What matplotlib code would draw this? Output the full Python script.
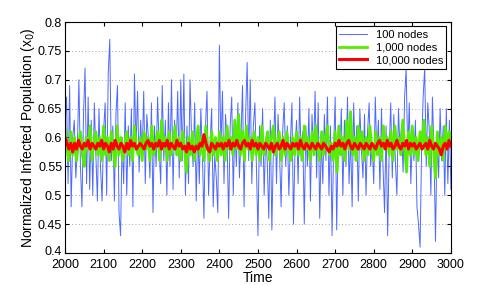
import numpy as np
import matplotlib
matplotlib.use('Agg')
import matplotlib.pyplot as plt
import matplotlib.transforms as mtransforms

plt.rcParams['font.family'] = ['Liberation Sans', 'DejaVu Sans']

# 100 nodes, sampled every 4 time steps
t_100 = np.arange(2000, 3001, 4)
nodes_100 = [
    0.62, 0.67, 0.52, 0.69, 0.48, 0.60, 0.63, 0.53, 0.58, 0.70, 0.55, 0.48, 0.64, 0.72, 0.52, 0.67, 0.51, 0.63, 0.50, 0.66, 0.57, 0.49, 0.65, 0.55, 0.49,
    0.61, 0.66, 0.50, 0.71, 0.77, 0.56, 0.62, 0.49, 0.64, 0.69, 0.47, 0.43, 0.60, 0.52, 0.66, 0.50, 0.62, 0.55, 0.65, 0.48, 0.71, 0.58, 0.68, 0.54, 0.63,
    0.57, 0.68, 0.52, 0.64, 0.60, 0.53, 0.66, 0.47, 0.62, 0.55, 0.67, 0.58, 0.52, 0.69, 0.56, 0.63, 0.50, 0.66, 0.55, 0.70, 0.51, 0.63, 0.57, 0.68, 0.53,
    0.70, 0.56, 0.71, 0.50, 0.62, 0.52, 0.70, 0.60, 0.55, 0.66, 0.49, 0.62, 0.52, 0.65, 0.57, 0.46, 0.62, 0.68, 0.50, 0.59, 0.65, 0.48, 0.57, 0.53, 0.47,
    0.76, 0.58, 0.68, 0.52, 0.64, 0.59, 0.46, 0.62, 0.67, 0.50, 0.62, 0.55, 0.66, 0.53, 0.60, 0.69, 0.48, 0.64, 0.73, 0.56, 0.70, 0.52, 0.62, 0.66, 0.55,
    0.43, 0.62, 0.55, 0.65, 0.50, 0.60, 0.56, 0.46, 0.63, 0.44, 0.58, 0.67, 0.52, 0.64, 0.57, 0.48, 0.61, 0.66, 0.55, 0.62, 0.50, 0.59, 0.66, 0.45, 0.58,
    0.63, 0.52, 0.67, 0.56, 0.61, 0.45, 0.62, 0.55, 0.65, 0.49, 0.64, 0.57, 0.68, 0.53, 0.66, 0.46, 0.60, 0.52, 0.64, 0.56, 0.67, 0.50, 0.62, 0.43, 0.58,
    0.67, 0.44, 0.62, 0.57, 0.65, 0.50, 0.63, 0.55, 0.67, 0.52, 0.60, 0.48, 0.66, 0.56, 0.62, 0.49, 0.65, 0.58, 0.53, 0.64, 0.50, 0.61, 0.66, 0.55, 0.59,
    0.52, 0.67, 0.57, 0.63, 0.51, 0.65, 0.55, 0.47, 0.62, 0.43, 0.58, 0.66, 0.53, 0.64, 0.56, 0.50, 0.65, 0.58, 0.62, 0.54, 0.67, 0.72, 0.57, 0.66, 0.52,
    0.60, 0.56, 0.63, 0.48, 0.45, 0.41, 0.58, 0.67, 0.72, 0.55, 0.66, 0.61, 0.50, 0.67, 0.58, 0.42, 0.60, 0.53, 0.65, 0.56, 0.62, 0.50, 0.65, 0.52, 0.63, 0.51,
]

# 1,000 and 10,000 nodes, sampled every 5 time steps
t_big = np.arange(2000, 3001, 5)
nodes_1000 = [
    0.62, 0.58, 0.56, 0.61, 0.57, 0.60, 0.56, 0.59, 0.61, 0.57, 0.55, 0.60, 0.58, 0.62, 0.56, 0.59, 0.61, 0.57, 0.60, 0.56,
    0.62, 0.57, 0.60, 0.56, 0.61, 0.58, 0.55, 0.62, 0.57, 0.60, 0.56, 0.59, 0.61, 0.57, 0.60, 0.56, 0.62, 0.58, 0.57, 0.60,
    0.56, 0.61, 0.58, 0.60, 0.56, 0.62, 0.57, 0.59, 0.61, 0.56, 0.63, 0.58, 0.60, 0.56, 0.61, 0.57, 0.59, 0.62, 0.57, 0.60,
    0.56, 0.61, 0.58, 0.54, 0.60, 0.57, 0.61, 0.56, 0.59, 0.62, 0.57, 0.60, 0.56, 0.62, 0.58, 0.56, 0.61, 0.57, 0.60, 0.56,
    0.61, 0.57, 0.60, 0.56, 0.62, 0.58, 0.60, 0.57, 0.63, 0.58, 0.64, 0.57, 0.61, 0.56, 0.62, 0.58, 0.60, 0.56, 0.61, 0.57,
    0.60, 0.56, 0.62, 0.57, 0.59, 0.61, 0.56, 0.60, 0.62, 0.57, 0.59, 0.61, 0.56, 0.60, 0.57, 0.61, 0.58, 0.56, 0.60, 0.57,
    0.61, 0.57, 0.60, 0.56, 0.62, 0.58, 0.60, 0.56, 0.61, 0.57, 0.62, 0.58, 0.56, 0.61, 0.57, 0.60, 0.62, 0.57, 0.59, 0.56,
    0.61, 0.54, 0.62, 0.57, 0.60, 0.56, 0.63, 0.58, 0.645, 0.57, 0.60, 0.56, 0.62, 0.58, 0.61, 0.56, 0.60, 0.57, 0.62, 0.58,
    0.56, 0.61, 0.57, 0.60, 0.56, 0.62, 0.58, 0.60, 0.57, 0.61, 0.56, 0.62, 0.58, 0.60, 0.57, 0.63, 0.58, 0.54, 0.61, 0.57,
    0.62, 0.57, 0.60, 0.56, 0.61, 0.58, 0.63, 0.57, 0.60, 0.55, 0.62, 0.58, 0.53, 0.61, 0.57, 0.60, 0.56, 0.62, 0.58, 0.61, 0.60,
]
nodes_10000 = [
    0.60, 0.59, 0.58, 0.59, 0.575, 0.59, 0.58, 0.595, 0.585, 0.58, 0.59, 0.585, 0.595, 0.58, 0.59, 0.585, 0.58, 0.59, 0.585, 0.595,
    0.58, 0.59, 0.585, 0.575, 0.59, 0.58, 0.595, 0.585, 0.58, 0.59, 0.585, 0.575, 0.59, 0.58, 0.595, 0.585, 0.59, 0.58, 0.585, 0.59,
    0.585, 0.58, 0.59, 0.595, 0.585, 0.59, 0.58, 0.59, 0.585, 0.595, 0.58, 0.59, 0.585, 0.595, 0.58, 0.59, 0.585, 0.58, 0.595, 0.585,
    0.59, 0.58, 0.585, 0.575, 0.59, 0.58, 0.585, 0.575, 0.585, 0.58, 0.59, 0.585, 0.605, 0.59, 0.58, 0.575, 0.59, 0.585, 0.58, 0.59,
    0.585, 0.59, 0.58, 0.59, 0.585, 0.595, 0.58, 0.59, 0.585, 0.595, 0.585, 0.58, 0.59, 0.595, 0.585, 0.59, 0.58, 0.595, 0.585, 0.59,
    0.58, 0.59, 0.585, 0.58, 0.59, 0.585, 0.58, 0.59, 0.575, 0.585, 0.59, 0.58, 0.585, 0.595, 0.58, 0.59, 0.585, 0.58, 0.59, 0.585,
    0.59, 0.58, 0.595, 0.585, 0.58, 0.59, 0.585, 0.58, 0.59, 0.585, 0.58, 0.59, 0.585, 0.58, 0.59, 0.585, 0.58, 0.575, 0.585, 0.58,
    0.59, 0.585, 0.595, 0.585, 0.59, 0.58, 0.59, 0.595, 0.585, 0.58, 0.59, 0.585, 0.58, 0.59, 0.585, 0.58, 0.59, 0.585, 0.58, 0.59,
    0.585, 0.58, 0.59, 0.595, 0.585, 0.59, 0.58, 0.595, 0.585, 0.59, 0.58, 0.585, 0.595, 0.585, 0.58, 0.59, 0.585, 0.595, 0.58, 0.59,
    0.585, 0.59, 0.58, 0.585, 0.59, 0.58, 0.585, 0.59, 0.58, 0.595, 0.585, 0.58, 0.59, 0.585, 0.58, 0.57, 0.585, 0.59, 0.58, 0.595, 0.585,
]

fig = plt.figure(figsize=(4.98, 2.85), dpi=100)
ax = fig.add_axes([0.1305, 0.1123, 0.775, 0.8105])

ax.plot(t_100, nodes_100, color='#2f4fff', lw=0.7, alpha=0.85, label='100 nodes')
ax.plot(t_big, nodes_1000, color='#55ee00', lw=2.0, label='1,000 nodes')
ax.plot(t_big, nodes_10000, color='#ff0000', lw=2.2, label='10,000 nodes')

ax.set_xlim(2000, 3000)
ax.set_ylim(0.4, 0.8)
ax.set_xticks(np.arange(2000, 3001, 100))
ax.set_yticks([0.4, 0.45, 0.5, 0.55, 0.6, 0.65, 0.7, 0.75, 0.8])
ax.set_yticklabels(['0.4', '0.45', '0.5', '0.55', '0.6', '0.65', '0.7', '0.75', '0.8'])
ax.yaxis.grid(True, linestyle=(0, (1, 3)), color='#888888', lw=0.6)
ax.tick_params(direction='in', top=True, right=True, labelsize=9, length=3)
ax.tick_params(axis='y', pad=2)
ax.tick_params(axis='x', pad=4)
ax.set_xlabel('Time', fontsize=10, labelpad=0)
ax.set_ylabel('Normalized Infected Population (x$_0$)', fontsize=10, labelpad=1)

# lift the bottom y label a little so it clears the first x label
lbl = ax.get_yticklabels()[0]
lbl.set_transform(lbl.get_transform() +
                  mtransforms.ScaledTranslation(0, 2 / 72, fig.dpi_scale_trans))

leg = ax.legend(loc='upper right', fontsize=8, fancybox=False, framealpha=1,
                edgecolor='black', borderpad=0.3, labelspacing=0.25,
                handlelength=2.5, borderaxespad=0.4)
leg.get_frame().set_linewidth(0.8)

fig.savefig('out.png', dpi=100)
